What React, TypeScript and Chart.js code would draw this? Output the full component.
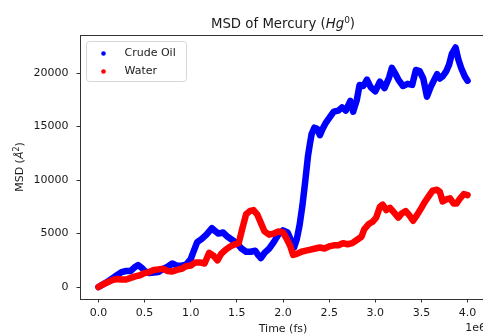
import React, { useEffect, useRef } from "react";
import { Chart, registerables } from "chart.js";

Chart.register(...registerables);

// Time in units of 1e6 fs
const oilTimes = [0, 0.05, 0.1, 0.15, 0.2, 0.25, 0.3, 0.35, 0.4, 0.43, 0.47, 0.5, 0.55, 0.6, 0.65, 0.7, 0.75, 0.8, 0.85, 0.9, 0.95, 1.0, 1.03, 1.07, 1.12, 1.17, 1.2, 1.23, 1.27, 1.3, 1.35, 1.4, 1.45, 1.5, 1.55, 1.6, 1.65, 1.7, 1.73, 1.76, 1.8, 1.85, 1.9, 1.95, 2.0, 2.05, 2.08, 2.12, 2.15, 2.18, 2.21, 2.24, 2.27, 2.29, 2.31, 2.34, 2.37, 2.4, 2.43, 2.46, 2.5, 2.55, 2.6, 2.64, 2.68, 2.73, 2.76, 2.8, 2.83, 2.87, 2.91, 2.95, 3.0, 3.05, 3.1, 3.15, 3.18, 3.22, 3.25, 3.3, 3.35, 3.4, 3.44, 3.48, 3.52, 3.56, 3.6, 3.64, 3.67, 3.7, 3.73, 3.77, 3.8, 3.83, 3.87, 3.9, 3.93, 3.97, 4.0];
const oilMsd = [0, 250, 500, 800, 1100, 1400, 1500, 1500, 1900, 2050, 1800, 1500, 1300, 1350, 1400, 1700, 1900, 2200, 2000, 2000, 2100, 2600, 3300, 4200, 4500, 4900, 5200, 5500, 5200, 5000, 5100, 4700, 4400, 4100, 3600, 3300, 3300, 3400, 3000, 2700, 3200, 3600, 4200, 4900, 5300, 5100, 4500, 3700, 4500, 5800, 7600, 9800, 12200, 13300, 14300, 14900, 14800, 14200, 14800, 15300, 15800, 16400, 16500, 16800, 16500, 17400, 16400, 17500, 18900, 18800, 19400, 18700, 18300, 19200, 18600, 19600, 20500, 19900, 19400, 18800, 19000, 18900, 20300, 20200, 19500, 17800, 18700, 19400, 19900, 19500, 19700, 20200, 20800, 21800, 22400, 21300, 20500, 19700, 19300];

const waterTimes = [0, 0.05, 0.1, 0.15, 0.2, 0.25, 0.3, 0.35, 0.4, 0.45, 0.5, 0.55, 0.6, 0.65, 0.7, 0.75, 0.8, 0.85, 0.9, 0.95, 1.0, 1.05, 1.1, 1.15, 1.2, 1.25, 1.29, 1.33, 1.38, 1.43, 1.48, 1.52, 1.56, 1.6, 1.64, 1.68, 1.72, 1.76, 1.8, 1.85, 1.9, 1.95, 2.0, 2.04, 2.08, 2.11, 2.15, 2.2, 2.25, 2.3, 2.35, 2.4, 2.45, 2.5, 2.55, 2.6, 2.65, 2.7, 2.75, 2.8, 2.85, 2.88, 2.93, 2.97, 3.01, 3.05, 3.08, 3.12, 3.16, 3.2, 3.25, 3.29, 3.33, 3.37, 3.41, 3.45, 3.5, 3.54, 3.58, 3.62, 3.67, 3.7, 3.73, 3.77, 3.81, 3.85, 3.88, 3.92, 3.96, 4.0];
const waterMsd = [0, 250, 450, 650, 750, 700, 700, 850, 1000, 1100, 1300, 1400, 1600, 1650, 1700, 1500, 1450, 1600, 1700, 1950, 2000, 2300, 2300, 2200, 3200, 2900, 2500, 3100, 3500, 3800, 4000, 4100, 5500, 6800, 7100, 7200, 6800, 6000, 5200, 4900, 5000, 5200, 5100, 4500, 3800, 3000, 3100, 3300, 3400, 3500, 3600, 3700, 3600, 3800, 3900, 3900, 4100, 4000, 4100, 4400, 4700, 5400, 5900, 6100, 6500, 7500, 7700, 7200, 7400, 7000, 6500, 6900, 7100, 6700, 6200, 6700, 7400, 8000, 8500, 9000, 9100, 8900, 8000, 8200, 8300, 7800, 7800, 8300, 8700, 8600];

const xTicks = [0, 0.5, 1.0, 1.5, 2.0, 2.5, 3.0, 3.5, 4.0];
const yTicks = [0, 5000, 10000, 15000, 20000];
const seriesNames = ["Crude Oil", "Water"];
const seriesColors = ["#0000ff", "#ff0000"];

const FONT = "'DejaVu Sans', sans-serif";
const TEXT = "#1a1a1a";
const FS = 11;

type Part = { text: string; italic?: boolean; sup?: boolean };

function drawRich(ctx: CanvasRenderingContext2D, parts: Part[], x: number, y: number, size: number, align: "center" | "left") {
  const fontFor = (p: Part) => `${p.italic ? "italic " : ""}${p.sup ? Math.round(size * 0.7) : size}px ${FONT}`;
  let total = 0;
  for (const p of parts) {
    ctx.font = fontFor(p);
    total += ctx.measureText(p.text).width;
  }
  let cx = align === "center" ? x - total / 2 : x;
  ctx.textAlign = "left";
  for (const p of parts) {
    ctx.font = fontFor(p);
    ctx.fillText(p.text, cx, p.sup ? y - size * 0.4 : y);
    cx += ctx.measureText(p.text).width;
  }
}

const decorPlugin = {
  id: "decor",
  afterDraw(chart: any) {
    const ctx: CanvasRenderingContext2D = chart.ctx;
    const a = chart.chartArea;
    ctx.save();
    ctx.strokeStyle = "#333";
    ctx.lineWidth = 1;
    ctx.beginPath();
    ctx.moveTo(a.left, Math.round(a.top) + 0.5);
    ctx.lineTo(a.right, Math.round(a.top) + 0.5);
    ctx.stroke();
    ctx.beginPath();
    ctx.moveTo(Math.round(a.right) - 0.5, a.top);
    ctx.lineTo(Math.round(a.right) - 0.5, a.bottom);
    ctx.stroke();

    ctx.fillStyle = TEXT;
    ctx.textBaseline = "alphabetic";
    const midX = (a.left + a.right) / 2;
    drawRich(ctx, [{ text: "MSD of Mercury (" }, { text: "Hg", italic: true }, { text: "0", sup: true }, { text: ")" }], midX, 28, 13.3, "center");
    ctx.font = `${FS}px ${FONT}`;
    ctx.textAlign = "center";
    ctx.textBaseline = "top";
    ctx.fillText("Time (fs)", midX, 324);
    ctx.textAlign = "right";
    ctx.fillText("1e6", a.right, 323);
    ctx.save();
    ctx.translate(23, (a.top + a.bottom) / 2);
    ctx.rotate(-Math.PI / 2);
    ctx.textBaseline = "alphabetic";
    drawRich(ctx, [{ text: "MSD (" }, { text: "Å", italic: true }, { text: "2", sup: true }, { text: ")" }], 0, 0, FS, "center");
    ctx.restore();

    const lx = 86.5, ly = 41.5, lw = 100, lh = 40, r = 3;
    ctx.beginPath();
    ctx.moveTo(lx + r, ly);
    ctx.lineTo(lx + lw - r, ly);
    ctx.quadraticCurveTo(lx + lw, ly, lx + lw, ly + r);
    ctx.lineTo(lx + lw, ly + lh - r);
    ctx.quadraticCurveTo(lx + lw, ly + lh, lx + lw - r, ly + lh);
    ctx.lineTo(lx + r, ly + lh);
    ctx.quadraticCurveTo(lx, ly + lh, lx, ly + lh - r);
    ctx.lineTo(lx, ly + r);
    ctx.quadraticCurveTo(lx, ly, lx + r, ly);
    ctx.closePath();
    ctx.fillStyle = "rgba(255,255,255,0.8)";
    ctx.fill();
    ctx.strokeStyle = "#d6d6d6";
    ctx.stroke();
    const rows = [53.5, 71.5];
    seriesNames.forEach((name, i) => {
      ctx.fillStyle = seriesColors[i];
      ctx.beginPath();
      ctx.arc(103.5, rows[i], 2.3, 0, Math.PI * 2);
      ctx.fill();
      ctx.fillStyle = TEXT;
      ctx.font = `${FS}px ${FONT}`;
      ctx.textAlign = "left";
      ctx.textBaseline = "middle";
      ctx.fillText(name, 124.5, rows[i]);
    });
    ctx.restore();
  },
};

export default function App() {
  const ref = useRef<HTMLCanvasElement | null>(null);
  useEffect(() => {
    if (!ref.current) return;
    const mk = (times: number[], vals: number[]) => times.map((t, i) => ({ x: t, y: vals[i] }));
    const chart = new Chart(ref.current, {
      type: "scatter",
      data: {
        datasets: [
          {
            label: seriesNames[0],
            data: mk(oilTimes, oilMsd),
            showLine: true,
            borderColor: seriesColors[0],
            backgroundColor: seriesColors[0],
            borderWidth: 6.5,
            borderJoinStyle: "round",
            borderCapStyle: "round",
            pointRadius: 0,
            order: 2,
          },
          {
            label: seriesNames[1],
            data: mk(waterTimes, waterMsd),
            showLine: true,
            borderColor: seriesColors[1],
            backgroundColor: seriesColors[1],
            borderWidth: 6.5,
            borderJoinStyle: "round",
            borderCapStyle: "round",
            pointRadius: 0,
            order: 1,
          },
        ],
      },
      options: {
        responsive: false,
        animation: false,
        devicePixelRatio: 1,
        layout: { padding: { left: 0, top: 35, right: 14, bottom: 0 } },
        plugins: { legend: { display: false }, tooltip: { enabled: false }, title: { display: false } },
        scales: {
          x: {
            type: "linear",
            min: -0.2,
            max: 4.2,
            afterBuildTicks: (s: any) => { s.ticks = xTicks.map((v) => ({ value: v })); },
            afterFit: (s: any) => { s.height = 46; },
            ticks: {
              autoSkip: false,
              maxRotation: 0,
              padding: 4,
              color: TEXT,
              font: { family: FONT, size: FS },
              callback: (v: any) => Number(v).toFixed(1),
            },
            grid: { drawOnChartArea: false, drawTicks: true, tickLength: 3.5, color: "#333" },
            border: { display: true, color: "#333", width: 1 },
          },
          y: {
            type: "linear",
            min: -1120,
            max: 23570,
            afterBuildTicks: (s: any) => { s.ticks = yTicks.map((v) => ({ value: v })); },
            afterFit: (s: any) => { s.width = 80; },
            ticks: {
              autoSkip: false,
              padding: 8,
              color: TEXT,
              font: { family: FONT, size: FS },
              callback: (v: any) => String(v),
            },
            grid: { drawOnChartArea: false, drawTicks: true, tickLength: 3.5, color: "#333" },
            border: { display: true, color: "#333", width: 1 },
          },
        },
      },
      plugins: [decorPlugin],
    } as any);
    return () => chart.destroy();
  }, []);
  return (
    <div style={{ position: "fixed", left: 0, top: 0, width: 483, height: 334, overflow: "hidden", background: "#fff" }}>
      <canvas ref={ref} width={500} height={345} style={{ display: "block" }} />
    </div>
  );
}
